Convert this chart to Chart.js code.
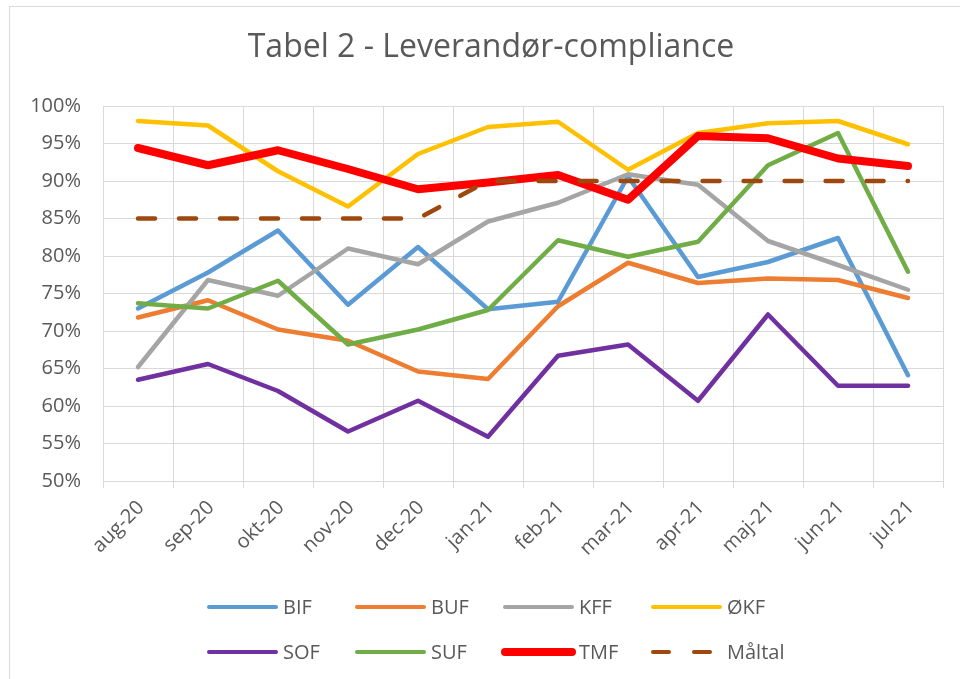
<!DOCTYPE html>
<html>
<head>
<meta charset="utf-8">
<script src="https://cdn.jsdelivr.net/npm/chart.js@4/dist/chart.umd.min.js"></script>
<style>
  body { margin: 0; background: #fff; }
  #ramme { position: relative; width: 960px; height: 679px; overflow: hidden; }
  #kant { position: absolute; left: 9px; top: 6px; width: 1000px; height: 700px;
          border-top: 1px solid #D9D9D9; border-left: 1px solid #D9D9D9; }
  #grafik { position: absolute; left: 0; top: 0; }
</style>
</head>
<body>
<div id="ramme">
  <div id="kant"></div>
  <canvas id="grafik" width="960" height="679"></canvas>
</div>
<script>
// Data (procent)
var maaneder = ['aug-20', 'sep-20', 'okt-20', 'nov-20', 'dec-20', 'jan-21',
                'feb-21', 'mar-21', 'apr-21', 'maj-21', 'jun-21', 'jul-21'];
var bif = [73.0, 77.8, 83.4, 73.5, 81.2, 72.9, 73.9, 90.6, 77.2, 79.2, 82.4, 64.1];
var buf = [71.8, 74.1, 70.2, 68.7, 64.6, 63.6, 73.3, 79.1, 76.4, 77.0, 76.8, 74.4];
var kff = [65.2, 76.8, 74.7, 81.0, 78.9, 84.6, 87.1, 90.9, 89.5, 82.0, 78.8, 75.5];
var okf = [98.0, 97.4, 91.3, 86.6, 93.6, 97.2, 97.9, 91.5, 96.4, 97.7, 98.0, 94.9];
var sof = [63.5, 65.6, 62.0, 56.6, 60.7, 55.9, 66.7, 68.2, 60.7, 72.2, 62.7, 62.7];
var suf = [73.7, 73.0, 76.7, 68.2, 70.2, 72.8, 82.1, 79.9, 81.9, 92.1, 96.4, 77.9];
var tmf = [94.4, 92.1, 94.1, 91.6, 88.9, 89.8, 90.8, 87.5, 96.0, 95.7, 93.0, 92.0];
var maaltal = [85, 85, 85, 85, 85, 90, 90, 90, 90, 90, 90, 90];

var titel = 'Tabel 2 - Leverandør-compliance';
var skrift = '"Open Sans", Lato, sans-serif';
var tekstFarve = '#595959';
var gitterFarve = '#D9D9D9';

function serie(navn, data, farve, bredde, streg) {
    return {
        label: navn,
        data: data,
        borderColor: farve,
        backgroundColor: farve,
        borderWidth: bredde,
        borderDash: streg || [],
        borderCapStyle: 'round',
        borderJoinStyle: 'round',
        pointRadius: 0,
        pointHoverRadius: 0,
        tension: 0,
        fill: false
    };
}

var datasaet = [
    serie('BIF', bif, '#5B9BD5', 4.5),
    serie('BUF', buf, '#ED7D31', 4.5),
    serie('KFF', kff, '#A5A5A5', 4.5),
    serie('ØKF', okf, '#FFC000', 4.5),
    serie('SOF', sof, '#7030A0', 4.5),
    serie('SUF', suf, '#70AD47', 4.5),
    serie('TMF', tmf, '#FF0000', 8),
    serie('Måltal', maaltal, '#9E480E', 4.5, [17, 24])
];
// Senere serier tegnes ovenpå (som i Excel)
datasaet.forEach(function (d, i) { d.order = datasaet.length - i; });

// Titel og forklaring tegnes selv (titlen centreres som i Excel, forklaring i 4 kolonner)
var pynt = {
    id: 'pynt',
    afterDraw: function (chart) {
        var ctx = chart.ctx;
        ctx.save();
        ctx.fillStyle = tekstFarve;
        ctx.font = '32px ' + skrift;
        ctx.textAlign = 'center';
        ctx.textBaseline = 'alphabetic';
        ctx.fillText(titel, 491, 57);

        ctx.textAlign = 'left';
        chart.data.datasets.forEach(function (d, i) {
            var x = 207 + (i % 4) * 148;
            var y = 607 + Math.floor(i / 4) * 45;
            ctx.beginPath();
            ctx.strokeStyle = d.borderColor;
            ctx.lineWidth = d.borderWidth === 8 ? 8 : 4;
            ctx.lineCap = 'round';
            ctx.setLineDash(d.borderDash.length ? [16, 25] : []);
            ctx.moveTo(x + 2, y);
            ctx.lineTo(x + 69, y);
            ctx.stroke();
            ctx.setLineDash([]);
            ctx.fillStyle = tekstFarve;
            ctx.font = '20px ' + skrift;
            ctx.textBaseline = 'middle';
            ctx.fillText(d.label, x + 76, y + 1);
        });
        ctx.restore();
    }
};

var grafik = new Chart(document.getElementById('grafik').getContext('2d'), {
    type: 'line',
    data: { labels: maaneder, datasets: datasaet },
    plugins: [pynt],
    options: {
        responsive: false,
        animation: false,
        layout: { padding: { left: 0, right: 17, top: 106, bottom: 0 } },
        plugins: {
            legend: { display: false },
            tooltip: { enabled: false },
            title: { display: false }
        },
        scales: {
            x: {
                offset: true,
                grid: { offset: true, color: gitterFarve, lineWidth: 1, tickLength: 7, drawTicks: true },
                border: { color: gitterFarve },
                ticks: {
                    color: tekstFarve,
                    font: { family: skrift, size: 20 },
                    maxRotation: 45,
                    minRotation: 45,
                    padding: 8,
                    labelOffset: 3,
                    autoSkip: false
                },
                afterFit: function (skala) { skala.height = 198; }
            },
            y: {
                min: 50,
                max: 100,
                grid: { color: gitterFarve, lineWidth: 1, drawTicks: false },
                border: { display: false },
                ticks: {
                    stepSize: 5,
                    color: tekstFarve,
                    font: { family: skrift, size: 20 },
                    padding: 22,
                    callback: function (v) { return v + '%'; }
                },
                afterFit: function (skala) { skala.width = 103; }
            }
        }
    }
});
</script>
</body>
</html>
